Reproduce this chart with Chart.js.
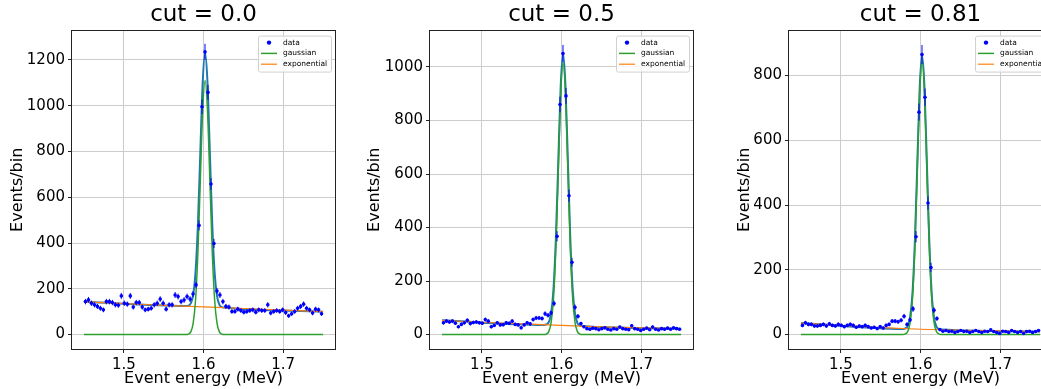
<!DOCTYPE html>
<html>
<head>
<meta charset="utf-8">
<script src="https://cdn.jsdelivr.net/npm/chart.js@4.4.0/dist/chart.umd.min.js"></script>
<style>
  html, body { margin: 0; padding: 0; background: #fff; overflow: hidden; }
  #wrap { position: relative; width: 1041px; height: 389px; overflow: hidden; }
  canvas { position: absolute; top: 0; }
</style>
</head>
<body>
<div id="wrap">
  <canvas id="c1" width="345" height="389" style="left:0px"></canvas>
  <canvas id="c2" width="345" height="389" style="left:358px"></canvas>
  <canvas id="c3" width="345" height="389" style="left:717px"></canvas>
</div>
<script>
// bin centres (80 bins, 1.45 - 1.75 MeV)
const energy = [
  1.45188, 1.45563, 1.45938, 1.46313, 1.46688, 1.47063, 1.47438, 1.47813, 1.48188, 1.48563,
  1.48938, 1.49313, 1.49688, 1.50063, 1.50438, 1.50813, 1.51188, 1.51563, 1.51938, 1.52313,
  1.52688, 1.53063, 1.53438, 1.53813, 1.54188, 1.54563, 1.54938, 1.55313, 1.55688, 1.56063,
  1.56438, 1.56813, 1.57188, 1.57563, 1.57938, 1.58313, 1.58688, 1.59063, 1.59438, 1.59813,
  1.60188, 1.60563, 1.60938, 1.61313, 1.61688, 1.62063, 1.62438, 1.62813, 1.63188, 1.63563,
  1.63938, 1.64313, 1.64688, 1.65063, 1.65438, 1.65813, 1.66188, 1.66563, 1.66938, 1.67313,
  1.67688, 1.68063, 1.68438, 1.68813, 1.69188, 1.69563, 1.69938, 1.70313, 1.70688, 1.71063,
  1.71438, 1.71813, 1.72188, 1.72563, 1.72938, 1.73313, 1.73688, 1.74063, 1.74438, 1.74813
];

// events per bin
const counts00 = [
  144, 152, 137, 130, 123, 115, 108, 144, 144, 140,
  130, 128, 169, 137, 133, 169, 120, 140, 140, 120,
  108, 111, 115, 130, 137, 155, 137, 111, 130, 130,
  173, 166, 144, 151, 166, 155, 177, 217, 477, 995,
  1235, 1058, 658, 398, 190, 173, 144, 123, 120, 101,
  101, 111, 105, 98, 101, 105, 108, 98, 108, 105,
  105, 130, 94, 101, 105, 101, 108, 96, 82, 91,
  101, 115, 123, 133, 115, 108, 94, 111, 108, 91
];
const counts05 = [
  44, 50, 47, 50, 42, 29, 38, 44, 53, 41,
  45, 47, 44, 42, 56, 50, 29, 34, 44, 36,
  37, 44, 42, 50, 38, 36, 25, 36, 44, 40,
  56, 62, 62, 60, 78, 72, 81, 116, 367, 860,
  1050, 892, 519, 270, 102, 68, 41, 29, 22, 20,
  24, 22, 18, 22, 25, 20, 17, 22, 20, 28,
  22, 20, 18, 33, 22, 20, 15, 20, 24, 18,
  28, 20, 17, 22, 20, 24, 20, 25, 22, 20
];
const counts081 = [
  28, 36, 31, 31, 26, 26, 28, 31, 26, 33,
  28, 26, 31, 28, 24, 28, 31, 28, 22, 26,
  24, 28, 24, 20, 22, 18, 24, 20, 28, 31,
  41, 41, 39, 44, 56, 31, 45, 79, 302, 687,
  865, 733, 406, 207, 75, 49, 15, 10, 12, 9,
  10, 6, 9, 12, 9, 10, 6, 9, 12, 9,
  6, 10, 9, 14, 9, 6, 3, 10, 9, 6,
  12, 9, 6, 9, 3, 9, 10, 6, 9, 12
];

// fitted curves
const peakX = [1.45, 1.578, 1.581, 1.584, 1.587, 1.590, 1.593, 1.596, 1.599, 1.602,
               1.605, 1.608, 1.611, 1.614, 1.617, 1.620, 1.623, 1.626, 1.75];
const gauss00 = [0, 0, 2, 12, 49, 150, 360, 673, 980, 1110, 980, 673, 360, 150, 49, 12, 2, 0, 0];
const gauss05 = [0, 0, 2, 11, 45, 137, 330, 616, 896, 1015, 896, 616, 330, 137, 45, 11, 2, 0, 0];
const gauss081 = [0, 0, 2, 9, 37, 114, 275, 513, 747, 846, 747, 513, 275, 114, 37, 9, 2, 0, 0];
const total00 = [143, 125, 126, 136, 172, 273, 482, 795, 1102, 1231, 1101, 793, 480, 269, 168, 130, 120, 118, 100];
const total05 = [53, 36, 38, 46, 80, 172, 365, 650, 930, 1049, 929, 649, 363, 170, 78, 43, 34, 32, 22];
const total081 = [35, 17, 19, 26, 54, 130, 291, 529, 763, 862, 763, 528, 290, 129, 52, 24, 17, 15, 9];

const expX = [1.45, 1.5, 1.55, 1.6, 1.65, 1.7, 1.75];
const expo00 = [143, 135, 128, 121, 114, 107, 100];
const expo05 = [53, 46, 40, 34, 29, 25, 22];
const expo081 = [35, 28, 21, 16, 13, 11, 9];

// ticks
const xTicks = [1.5, 1.6, 1.7];
const xTickLabels = ['1.5', '1.6', '1.7'];
const yTicks00 = [0, 200, 400, 600, 800, 1000, 1200];
const yTicks05 = [0, 200, 400, 600, 800, 1000];
const yTicks081 = [0, 200, 400, 600, 800];

const legendLabels = ['data', 'gaussian', 'exponential'];

Chart.defaults.font.family = '"DejaVu Sans", sans-serif';
Chart.defaults.color = '#000';

const pairs = (xs, ys) => xs.map((x, i) => ({ x: x, y: ys[i] }));

// error bars on the data points
const errorBars = {
  id: 'errorBars',
  afterDatasetsDraw(chart) {
    const ctx = chart.ctx, ys = chart.scales.y, area = chart.chartArea;
    const meta = chart.getDatasetMeta(0);
    const vals = chart.data.datasets[0].data;
    ctx.save();
    ctx.beginPath();
    ctx.rect(area.left, area.top, area.right - area.left, area.bottom - area.top);
    ctx.clip();
    ctx.strokeStyle = '#0000ff';
    ctx.lineWidth = 1;
    meta.data.forEach((pt, i) => {
      const v = vals[i].y, e = Math.sqrt(v);
      ctx.beginPath();
      ctx.moveTo(pt.x, ys.getPixelForValue(v - e));
      ctx.lineTo(pt.x, ys.getPixelForValue(v + e));
      ctx.stroke();
    });
    ctx.restore();
  }
};

// axes frame + small legend box in the upper right
const frameLegend = {
  id: 'frameLegend',
  afterDraw(chart) {
    const ctx = chart.ctx, a = chart.chartArea;
    ctx.save();
    ctx.strokeStyle = '#222';
    ctx.lineWidth = 1;
    ctx.strokeRect(Math.round(a.left) - 0.5, Math.round(a.top) - 0.5,
                   Math.round(a.right - a.left) + 1, Math.round(a.bottom - a.top) + 1);

    const w = 73, h = 36;
    const left = a.right - 4 - w, top = a.top + 5;
    ctx.beginPath();
    ctx.roundRect(left + 0.5, top + 0.5, w, h, 2);
    ctx.fillStyle = 'rgba(255,255,255,0.8)';
    ctx.fill();
    ctx.strokeStyle = '#d0d0d0';
    ctx.stroke();

    ctx.font = '7.5px "DejaVu Sans"';
    ctx.textBaseline = 'middle';
    legendLabels.forEach((label, k) => {
      const ds = chart.data.datasets.find(d => d.label === label);
      const yy = top + 7 + k * 10.8;
      if (ds.showLine === false) {
        ctx.fillStyle = ds.pointBackgroundColor;
        ctx.beginPath();
        ctx.arc(left + 11, yy, 2.2, 0, Math.PI * 2);
        ctx.fill();
      } else {
        ctx.strokeStyle = ds.borderColor;
        ctx.lineWidth = ds.borderWidth;
        ctx.beginPath();
        ctx.moveTo(left + 3, yy);
        ctx.lineTo(left + 19, yy);
        ctx.stroke();
      }
      ctx.fillStyle = '#000';
      ctx.fillText(label, left + 25, yy);
    });
    ctx.restore();
  }
};

function makeChart(id, title, counts, gauss, total, expo, yTicks, yMin, yMax, yTitlePad) {
  new Chart(document.getElementById(id), {
    type: 'line',
    data: {
      datasets: [
        { label: 'data', data: pairs(energy, counts), showLine: false,
          pointRadius: 1.8, pointBorderWidth: 0, pointBackgroundColor: '#0000ff' },
        { label: 'gaussian', data: pairs(peakX, gauss), borderColor: '#2ca02c', borderWidth: 1.5,
          pointRadius: 0, cubicInterpolationMode: 'monotone' },
        { label: 'exponential', data: pairs(expX, expo), borderColor: '#ff7f0e', borderWidth: 1.2,
          pointRadius: 0, cubicInterpolationMode: 'monotone' },
        { label: 'total', data: pairs(peakX, total), borderColor: '#1f77b4', borderWidth: 2,
          pointRadius: 0, cubicInterpolationMode: 'monotone' }
      ]
    },
    options: {
      responsive: false,
      animation: false,
      layout: { padding: { left: 0, right: 10, top: 0, bottom: 0 } },
      plugins: {
        legend: { display: false },
        tooltip: { enabled: false },
        title: {
          display: true, text: title, fullSize: false, color: '#000',
          font: { size: 23, weight: 'normal' }, padding: { top: 1, bottom: 2 }
        }
      },
      scales: {
        x: {
          type: 'linear', min: 1.435, max: 1.765,
          afterBuildTicks: axis => { axis.ticks = xTicks.map(v => ({ value: v })); },
          afterFit: axis => { axis.height = 40; },
          ticks: { callback: (v, i) => xTickLabels[i], font: { size: 15 }, color: '#000',
                   maxRotation: 0, autoSkip: false, padding: 3 },
          grid: { color: '#cccccc', lineWidth: 1, tickLength: 4, tickColor: '#222' },
          border: { display: false },
          title: { display: true, text: 'Event energy (MeV)', font: { size: 16 }, color: '#000',
                   padding: { top: 0, bottom: 1 } }
        },
        y: {
          type: 'linear', min: yMin, max: yMax,
          afterBuildTicks: axis => { axis.ticks = yTicks.map(v => ({ value: v })); },
          afterFit: axis => { axis.width = 72; },
          ticks: { callback: (v, i) => String(yTicks[i]), font: { size: 15 }, color: '#000', padding: 3 },
          grid: { color: '#cccccc', lineWidth: 1, tickLength: 4, tickColor: '#222' },
          border: { display: false },
          title: { display: true, text: 'Events/bin', font: { size: 16 }, color: '#000',
                   padding: { top: yTitlePad, bottom: 0 } }
        }
      }
    },
    plugins: [errorBars, frameLegend]
  });
}

makeChart('c1', 'cut = 0.0', counts00, gauss00, total00, expo00, yTicks00, -63, 1328, 8);
makeChart('c2', 'cut = 0.5', counts05, gauss05, total05, expo05, yTicks05, -54, 1136, 7);
makeChart('c3', 'cut = 0.81', counts081, gauss081, total081, expo081, yTicks081, -45, 939, 18);
</script>
</body>
</html>
